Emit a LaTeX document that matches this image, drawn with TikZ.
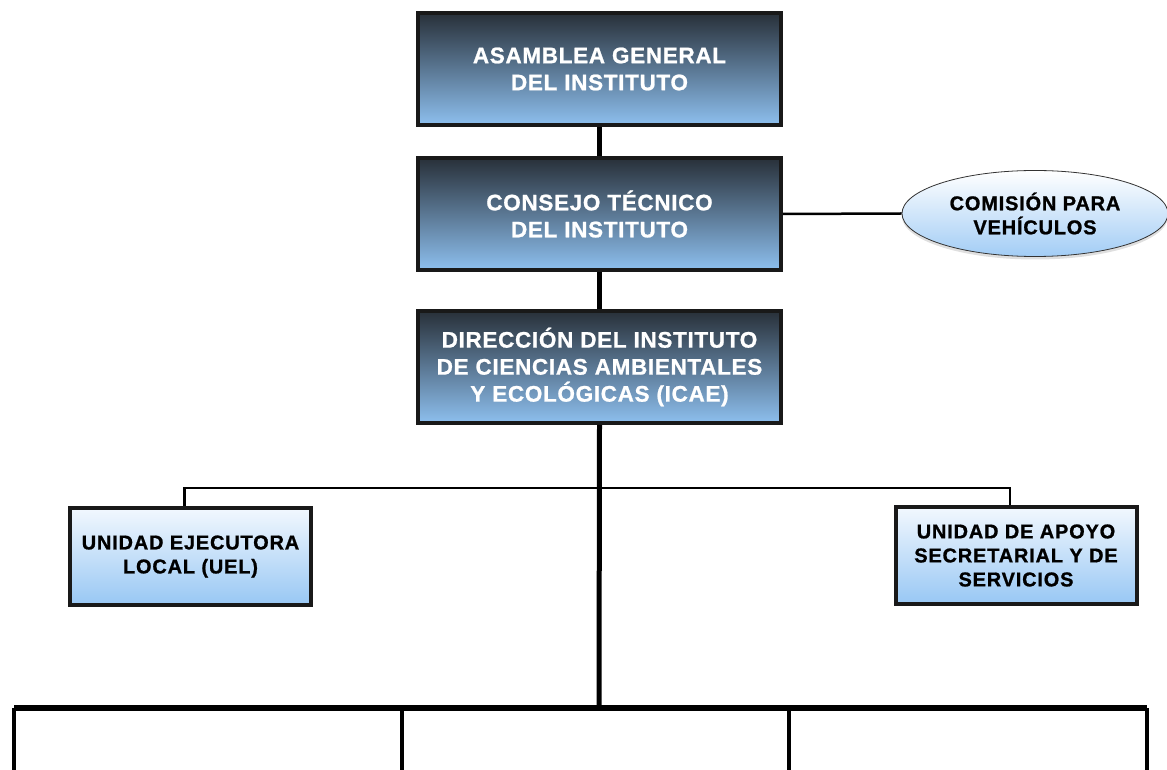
\documentclass[tikz,border=0pt]{standalone}
\usepackage{fontspec}
\setmainfont{Liberation Sans}
\usetikzlibrary{positioning, shapes.geometric, shadows}

\definecolor{darktop}{HTML}{283039}
\definecolor{darkmid}{HTML}{51698A}
\definecolor{darkbot}{HTML}{8DBFEE}
\definecolor{lighttop}{HTML}{F2F8FE}
\definecolor{lightbot}{HTML}{98C7F4}

\begin{document}
\begin{tikzpicture}[
            node distance=29pt,
            headbox/.style={rectangle, draw=black!90, line width=4pt, minimum width=363pt, minimum height=112pt, align=center,
                top color=darktop, middle color=darkmid, bottom color=darkbot, text=white,
                font=\bfseries\fontsize{22.5}{27}\selectfont\addfontfeature{LetterSpace=3, FakeBold=1}},
            unitbox/.style={rectangle, draw=black!90, line width=4pt, minimum width=241pt, minimum height=97pt, align=center,
                top color=lighttop, bottom color=lightbot,
                font=\bfseries\fontsize{20}{24}\selectfont\addfontfeature{LetterSpace=4, FakeBold=1}},
            oval/.style={ellipse, draw=black!80, line width=0.8pt, minimum width=266pt, minimum height=86pt, align=center,
                top color=white, bottom color=lightbot!90, drop shadow={opacity=0.25, shadow xshift=0pt, shadow yshift=-3pt},
                font=\bfseries\fontsize{20}{24}\selectfont\addfontfeature{LetterSpace=4, FakeBold=1}},
            trunk/.style={line width=5pt},
            branch/.style={line width=2.5pt}
        ]
            \useasboundingbox (0,0) rectangle (1167pt,769pt);

            \node (asamblea) [headbox] at (599.5pt,700pt) {ASAMBLEA GENERAL\\DEL INSTITUTO};
            \node (consejo) [headbox, below=of asamblea] {CONSEJO TÉCNICO\\DEL INSTITUTO};
            \node (direccion) [headbox, below=37pt of consejo] {DIRECCIÓN DEL INSTITUTO\\DE CIENCIAS AMBIENTALES\\Y ECOLÓGICAS (ICAE)};
            \node (comision) [oval] at (1035pt,555.5pt) {COMISIÓN PARA\\VEHÍCULOS};
            \node (uel) [unitbox] at (190.5pt,212.5pt) {UNIDAD EJECUTORA\\LOCAL (UEL)};
            \node (apoyo) [unitbox] at (1016pt,213.5pt) {UNIDAD DE APOYO\\SECRETARIAL Y DE\\SERVICIOS};

            % lineas de mando
            \draw[trunk] (asamblea) -- (consejo);
            \draw[trunk] (consejo) -- (direccion);
            \draw[branch] (consejo.east) -- (comision.west);

            \coordinate (bar) at (599pt,61pt);
            \draw[trunk] (direccion.south) -- (bar);
            \draw[branch] ([xshift=-6pt]uel.north) -- ++(0,18pt) -| ([xshift=-6pt]apoyo.north);

            % ramas inferiores
            \coordinate (left) at (14pt,61pt);
            \coordinate (right) at (1147pt,61pt);
            \draw[trunk, line width=6pt] (left) -- (right);
            \foreach \x in {14,402,789,1147}
                \draw[line width=4pt] (\x pt,61pt) -- (\x pt,-5pt);
        \end{tikzpicture}
\end{document}
